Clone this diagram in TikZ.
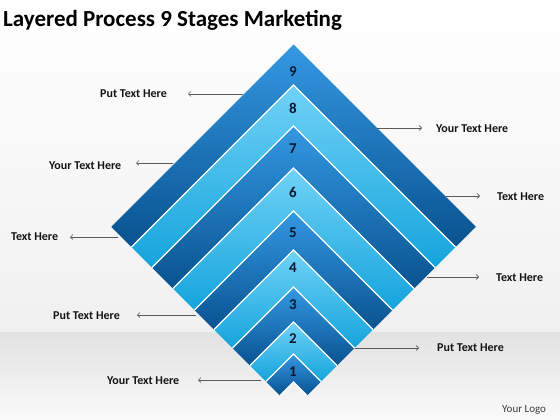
\documentclass[tikz,border=0pt]{standalone}
\usepackage{fontspec}
\setmainfont{Carlito}
\usetikzlibrary{arrows.meta}
\definecolor{darktop}{RGB}{52,152,226}
\definecolor{darkbot}{RGB}{8,82,144}
\definecolor{lighttop}{RGB}{112,210,246}
\definecolor{lightbot}{RGB}{20,164,220}
\definecolor{numcol}{RGB}{12,24,48}
\definecolor{conncol}{RGB}{90,90,90}
\definecolor{txtcol}{RGB}{20,20,20}
\definecolor{bgA}{RGB}{240,240,240}
\definecolor{bgB}{RGB}{226,226,226}
\definecolor{bgC}{RGB}{250,250,250}
\definecolor{logocol}{RGB}{60,60,60}
\begin{document}
\begin{tikzpicture}[x=1pt,y=-1pt,
  darkband/.style={top color=darktop,bottom color=darkbot,draw=none},
  lightband/.style={top color=lighttop,bottom color=lightbot,draw=none},
  gapline/.style={draw=white,line width=1.2pt,line join=miter},
  num/.style={font=\fontsize{15}{15}\selectfont\bfseries,text=numcol,inner sep=0pt},
  lbl/.style={font=\fontsize{12}{12}\selectfont\bfseries,text=txtcol,inner sep=0pt,anchor=base west},
  conn/.style={draw=conncol,line width=0.6pt,-{Straight Barb[length=2.5pt,width=5pt]}}]
\useasboundingbox (0,0) rectangle (560,420);
% background
\shade[top color=white,bottom color=bgA] (0,0) rectangle (560,332);
\shade[top color=bgB,bottom color=bgC] (0,332) rectangle (560,420);
% bands
\foreach \yo/\yi/\st in {44.5/85/darkband,85/126/lightband,126/168/darkband,168/211/lightband,211/250/darkband,250/287/lightband,287/322/darkband,322/354/lightband,354/382/darkband}{
  \path[\st] ({293.5-(409-\yo)/2},{(409+\yo)/2}) -- (293.5,\yo) -- ({293.5+(409-\yo)/2},{(409+\yo)/2})
     -- ({293.5+(409-\yi)/2},{(409+\yi)/2}) -- (293.5,\yi) -- ({293.5-(409-\yi)/2},{(409+\yi)/2}) -- cycle;
}
\foreach \yb in {85,126,168,211,250,287,322,354,382}{
  \draw[gapline] ({293.5-(409-\yb)/2},{(409+\yb)/2}) -- (293.5,\yb) -- ({293.5+(409-\yb)/2},{(409+\yb)/2});
}
% numbers
\node[num] (n9) at (293,72) {9};
\node[num] (n8) at (293,108) {8};
\node[num] (n7) at (293,149) {7};
\node[num] (n6) at (293,192) {6};
\node[num] (n5) at (293,233) {5};
\node[num] (n4) at (293,268) {4};
\node[num] (n3) at (293,305) {3};
\node[num] (n2) at (293,339) {2};
\node[num] (n1) at (293,372) {1};
% title
\node[font=\fontsize{23}{23}\selectfont\bfseries,anchor=base west,inner sep=0pt,text=black] (title) at (3,27) {Layered Process 9 Stages Marketing};
% labels
\node[lbl] (l1) at (100,97) {Put Text Here};
\node[lbl] (l2) at (49,169) {Your Text Here};
\node[lbl] (l3) at (11,240) {Text Here};
\node[lbl] (l4) at (53,319) {Put Text Here};
\node[lbl] (l5) at (107,384) {Your Text Here};
\node[lbl] (r1) at (436,132.5) {Your Text Here};
\node[lbl] (r2) at (497,200) {Text Here};
\node[lbl] (r3) at (496,281.5) {Text Here};
\node[lbl] (r4) at (437,351.5) {Put Text Here};
\node[font=\fontsize{11}{11}\selectfont,anchor=base west,inner sep=0pt,text=logocol] (logo) at (502,412) {Your Logo};
% connectors
\coordinate (al1s) at (243,94);  \coordinate (al1e) at (188,94);
\coordinate (al2s) at (173,163); \coordinate (al2e) at (136,163);
\coordinate (al3s) at (118,237); \coordinate (al3e) at (70,237);
\coordinate (al4s) at (196,315); \coordinate (al4e) at (137,315);
\coordinate (al5s) at (261,380); \coordinate (al5e) at (198,380);
\coordinate (ar1s) at (377,128); \coordinate (ar1e) at (422,128);
\coordinate (ar2s) at (446,196); \coordinate (ar2e) at (480,196);
\coordinate (ar3s) at (427,277); \coordinate (ar3e) at (479,277);
\coordinate (ar4s) at (355,348); \coordinate (ar4e) at (419,348);
\foreach \c in {al1,al2,al3,al4,al5,ar1,ar2,ar3,ar4}{
  \draw[conn] (\c s) -- (\c e);
}
\end{tikzpicture}
\end{document}
